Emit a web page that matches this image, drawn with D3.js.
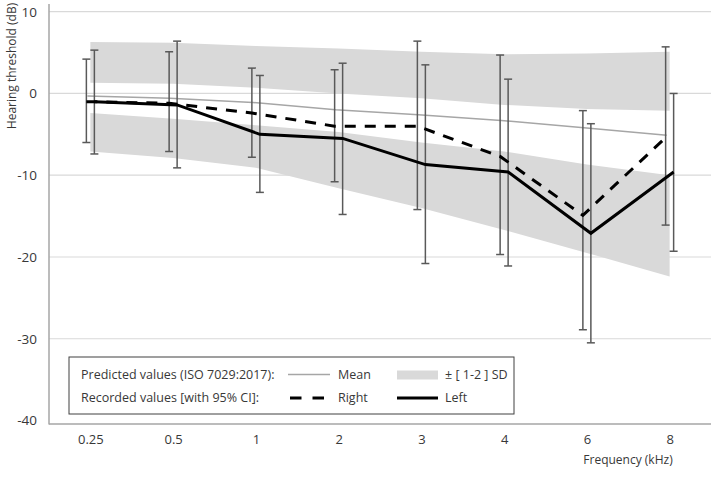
<!DOCTYPE html>
<html><head><meta charset="utf-8">
<script src="https://cdn.jsdelivr.net/npm/d3@7"></script>
<style>body{margin:0;background:#fff;} svg{display:block;font-family:"Open Sans",sans-serif;}</style>
</head><body><svg id="c" width="720" height="478"></svg>
<script>
const freqs = ["0.25","0.5","1","2","3","4","6","8"];
const yTicks = [10,0,-10,-20,-30,-40];
const meanVals = [-0.3,-0.6,-1.1,-2.0,-2.6,-3.3,-4.2,-5.1];
const upperTop = [6.3,6.2,5.8,5.5,5.1,4.8,4.9,5.1];
const upperBot = [1.3,1.2,0.7,0.0,-0.6,-1.4,-1.9,-2.1];
const lowerTop = [-2.4,-3.1,-3.9,-4.7,-6.0,-7.1,-8.7,-10.0];
const lowerBot = [-7.1,-7.9,-9.1,-11.6,-14.0,-16.7,-19.5,-22.4];
const rightVals = [-1.0,-1.2,-2.4,-4.0,-4.0,-7.7,-14.9,-5.4];
const rightLo = [-6.0,-7.1,-7.8,-10.8,-14.2,-19.7,-28.9,-16.1];
const rightHi = [4.2,5.1,3.1,2.9,6.4,4.7,-2.1,5.7];
const leftVals = [-1.0,-1.4,-5.0,-5.5,-8.7,-9.6,-17.1,-9.6];
const leftLo = [-7.4,-9.1,-12.1,-14.8,-20.8,-21.1,-30.5,-19.3];
const leftHi = [5.3,6.4,2.2,3.7,3.5,1.75,-3.7,0.0];

const TXT = "#383838";
const svg = d3.select("#c");
const x = d3.scalePoint().domain(freqs).range([49,711]).padding(0.5);
const y = d3.scaleLinear().domain([-40,10]).range([420.5,11.7]);
const OFF = 4;

// gridlines
svg.append("g").selectAll("line").data(yTicks.filter(d=>d>-40)).join("line")
  .attr("x1",49).attr("x2",711).attr("y1",d=>y(d)).attr("y2",d=>y(d))
  .attr("stroke","#d9d9d9").attr("stroke-width",1.2);

// bands
const idx = d3.range(freqs.length);
const area = (top,bot)=>d3.area().x(i=>x(freqs[i])).y0(i=>y(bot[i])).y1(i=>y(top[i]));
svg.append("path").datum(idx).attr("d",area(upperTop,upperBot)).attr("fill","#d9d9d9");
svg.append("path").datum(idx).attr("d",area(lowerTop,lowerBot)).attr("fill","#d9d9d9");

// mean line
svg.append("path").datum(idx).attr("d",d3.line().x(i=>x(freqs[i])-3).y(i=>y(meanVals[i])))
  .attr("fill","none").attr("stroke","#a6a6a6").attr("stroke-width",1.5);

// axes
const yAxis = d3.axisLeft(y).tickValues(yTicks).tickSize(0).tickPadding(12).tickFormat(d=>String(d));
const gy = svg.append("g").attr("transform","translate(49,0)").call(yAxis);
gy.select(".domain").remove();
gy.selectAll("text").attr("font-size",13.5).attr("fill",TXT).attr("font-family","Open Sans").attr("x",-12);
svg.append("line").attr("x1",49).attr("x2",49).attr("y1",4).attr("y2",424.5).attr("stroke","#a6a6a6").attr("stroke-width",1.5);
const xAxis = d3.axisBottom(x).tickSize(0).tickPadding(11);
const gx = svg.append("g").attr("transform","translate(0,424)").call(xAxis);
gx.select(".domain").remove();
gx.selectAll("text").attr("font-size",13).attr("fill",TXT).attr("font-family","Open Sans");
svg.append("line").attr("x1",49).attr("x2",711).attr("y1",424).attr("y2",424).attr("stroke","#a6a6a6").attr("stroke-width",1.5);

// error bars
function errBars(lo,hi,dx){
  const g = svg.append("g").attr("stroke","#595959").attr("stroke-width",1.5);
  idx.forEach(i=>{
    const cx = x(freqs[i])+dx;
    g.append("line").attr("x1",cx).attr("x2",cx).attr("y1",y(hi[i])).attr("y2",y(lo[i]));
    g.append("line").attr("x1",cx-4).attr("x2",cx+4).attr("y1",y(hi[i])).attr("y2",y(hi[i]));
    g.append("line").attr("x1",cx-4).attr("x2",cx+4).attr("y1",y(lo[i])).attr("y2",y(lo[i]));
  });
}
errBars(rightLo,rightHi,-OFF);
errBars(leftLo,leftHi,OFF);

// recorded lines
svg.append("path").datum(idx).attr("d",d3.line().x(i=>x(freqs[i])-OFF).y(i=>y(rightVals[i])))
  .attr("fill","none").attr("stroke","#000").attr("stroke-width",3).attr("stroke-dasharray","11,9");
svg.append("path").datum(idx).attr("d",d3.line().x(i=>x(freqs[i])+OFF).y(i=>y(leftVals[i])))
  .attr("fill","none").attr("stroke","#000").attr("stroke-width",3);

// axis titles
svg.append("text").attr("transform","translate(16,66) rotate(-90)").attr("text-anchor","middle")
  .attr("font-size",12).attr("fill",TXT).text("Hearing threshold (dB)");
svg.append("text").attr("x",628).attr("y",464).attr("text-anchor","middle")
  .attr("font-size",12).attr("fill",TXT).text("Frequency (kHz)");

// legend
const lg = svg.append("g");
lg.append("rect").attr("x",69).attr("y",357).attr("width",445).attr("height",57)
  .attr("fill","#fff").attr("stroke","#404040").attr("stroke-width",1);
const r1 = 374.5, r2 = 398, FS = 12.5;
lg.append("text").attr("x",81).attr("y",r1).attr("dy","0.35em").attr("font-size",FS).attr("fill",TXT).text("Predicted values (ISO 7029:2017):");
lg.append("text").attr("x",81).attr("y",r2).attr("dy","0.35em").attr("font-size",FS).attr("fill",TXT).text("Recorded values [with 95% CI]:");
lg.append("line").attr("x1",288).attr("x2",330).attr("y1",r1).attr("y2",r1).attr("stroke","#a6a6a6").attr("stroke-width",1.5);
lg.append("text").attr("x",338).attr("y",r1).attr("dy","0.35em").attr("font-size",FS).attr("fill",TXT).text("Mean");
lg.append("rect").attr("x",397).attr("y",370.5).attr("width",41).attr("height",9).attr("fill","#d9d9d9");
lg.append("text").attr("x",445).attr("y",r1).attr("dy","0.35em").attr("font-size",FS).attr("fill",TXT).text("± [ 1-2 ] SD");
lg.append("line").attr("x1",290).attr("x2",326).attr("y1",r2).attr("y2",r2).attr("stroke","#000").attr("stroke-width",3).attr("stroke-dasharray","11.5,11");
lg.append("text").attr("x",338).attr("y",r2).attr("dy","0.35em").attr("font-size",FS).attr("fill",TXT).text("Right");
lg.append("line").attr("x1",397).attr("x2",438).attr("y1",r2).attr("y2",r2).attr("stroke","#000").attr("stroke-width",3);
lg.append("text").attr("x",445).attr("y",r2).attr("dy","0.35em").attr("font-size",FS).attr("fill",TXT).text("Left");
</script></body></html>
